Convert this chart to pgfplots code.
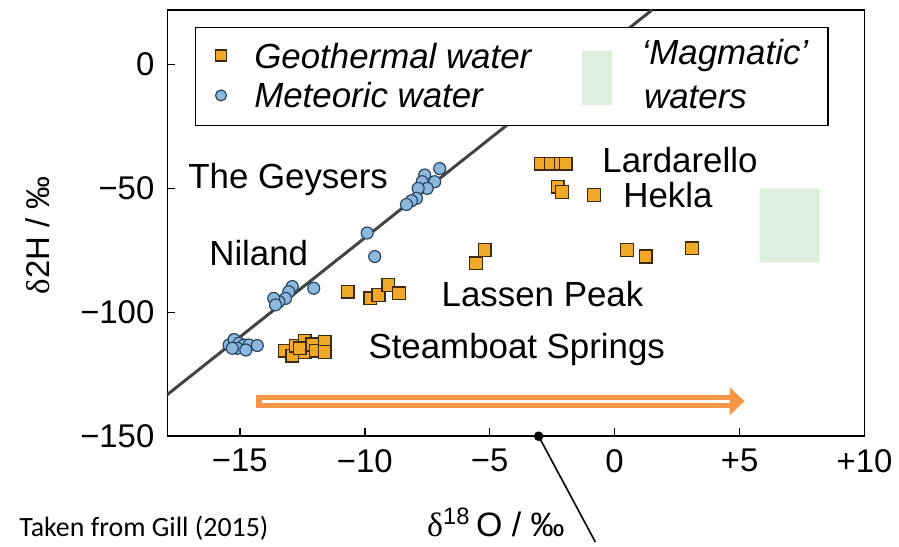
\documentclass[border=0pt]{standalone}
\usepackage{pgfplots}
\pgfplotsset{compat=1.18}
\usepackage{fontspec}
\setmainfont{Liberation Sans}
\newfontfamily\seriffont{Liberation Serif}
\newfontfamily\calibri{Carlito}

\definecolor{geo}{HTML}{F0A828}
\definecolor{geoedge}{HTML}{3C2A0A}
\definecolor{met}{HTML}{8DB8DE}
\definecolor{metedge}{HTML}{274560}
\definecolor{magma}{HTML}{DCEEDC}
\definecolor{arrowor}{HTML}{F79646}
\definecolor{gmwl}{HTML}{444444}

\newcommand{\lab}{\fontsize{17.5}{20}\selectfont}

\begin{document}
\begin{tikzpicture}
  \begin{axis}[
    scale only axis,
    width=350pt, height=214pt,
    xmin=-17.9, xmax=10,
    ymin=-150, ymax=22,
    xtick={-15,-10,-5,0,5,10},
    xticklabels={−15,−10,−5,0,+5,+10},
    ytick={0,-50,-100,-150},
    yticklabels={0,−50,−100,−150},
    tick pos=left,
    tick align=inside,
    major tick length=4pt,
    tick style={line width=0.8pt, black},
    axis line style={line width=0.8pt},
    tick label style={font=\fontsize{16.5}{18}\selectfont},
    xticklabel style={yshift=-3pt},
    yticklabel style={xshift=-3pt},
    clip=false,
  ]

    % magmatic waters field
    \addplot[draw=none, fill=magma] coordinates {
      (5.8,-80) (8.2,-80) (8.2,-50) (5.8,-50)
    } \closedcycle;

    % global meteoric water line
    \addplot[gmwl, line width=1.5pt] coordinates {(-17.9,-133.2) (1.5,22)};

    % meteoric water
    \addplot[only marks, mark=*, mark size=3pt,
      mark options={fill=met, draw=metedge, line width=0.6pt}]
    coordinates {
      (-7.0,-42) (-7.2,-47.3) (-7.6,-44.6) (-7.7,-47.3) (-7.5,-50)
      (-7.86,-50) (-7.93,-54) (-8.13,-55) (-8.33,-56.5)
      (-9.9,-68) (-9.6,-77.5)
      (-12.04,-90.3) (-12.9,-89.6) (-13.04,-91.7) (-13.17,-94.4)
      (-13.44,-95.7) (-13.64,-94.4) (-13.57,-97)
      (-15.43,-113.2) (-15.23,-111) (-15.03,-112.5) (-14.83,-113.2)
      (-14.63,-113.2) (-14.3,-113.4) (-15.1,-114.5) (-14.76,-115.2)
      (-15.3,-114.5)
    };

    % geothermal water
    \addplot[only marks, mark=square*, mark size=3.2pt,
      mark options={fill=geo, draw=geoedge, line width=0.7pt}]
    coordinates {
      (-13.2,-115.5) (-12.9,-117.5) (-12.75,-113.5) (-12.4,-111.5)
      (-12.4,-116) (-12.1,-113) (-11.95,-115.5) (-11.6,-112)
      (-11.6,-116) (-12.6,-114.5)
      (-10.68,-91.7) (-9.78,-94.4) (-9.45,-93) (-9.06,-89) (-8.63,-92.3)
      (-5.54,-80.2) (-5.2,-74.9)
      (-2.96,-40) (-2.56,-40) (-2.16,-40) (-1.96,-40)
      (-2.28,-49.3) (-2.1,-51.5) (-0.82,-52.6)
      (0.5,-74.9) (1.24,-77.5) (3.1,-74.2)
    };

    % site labels
    \node[anchor=west, font=\lab] at (axis cs:-17.34,-46.4) {The Geysers};
    \node[anchor=west, font=\lab] at (axis cs:-16.5,-76.2) {Niland};
    \node[anchor=west, font=\lab] at (axis cs:-7.2,-92.7) {Lassen Peak};
    \node[anchor=west, font=\lab] at (axis cs:-10.13,-114.9) {Steamboat Springs};
    \node[anchor=west, font=\lab] at (axis cs:-0.77,-38.7) {Lardarello};
    \node[anchor=west, font=\lab] at (axis cs:0.07,-52.8) {Hekla};

    % legend
    \draw[line width=0.8pt, fill=white] (axis cs:-16.78,14.9) rectangle (axis cs:8.55,-24.6);
    \node[draw=geoedge, fill=geo, line width=0.7pt, minimum size=5.5pt, inner sep=0pt] at (axis cs:-15.75,3.6) {};
    \node[draw=metedge, fill=met, circle, line width=0.6pt, minimum size=5.5pt, inner sep=0pt] at (axis cs:-15.75,-12.5) {};
    \node[anchor=west, font=\lab\itshape] at (axis cs:-14.7,3.6) {Geothermal water};
    \node[anchor=west, font=\lab\itshape] at (axis cs:-14.7,-12.5) {Meteoric water};
    \fill[magma] (axis cs:-1.29,5.6) rectangle (axis cs:-0.09,-16.5);
    \node[anchor=west, font=\lab\itshape] at (axis cs:0.8,3.6) {‘Magmatic’};
    \node[anchor=west, font=\lab\itshape] at (axis cs:0.9,-13.3) {waters};

    % orange arrow
    \draw[arrowor, line width=6.5pt] (axis cs:-14.35,-135.9) -- (axis cs:4.7,-135.9);
    \draw[white, line width=1.3pt] (axis cs:-14.1,-135.9) -- (axis cs:4.65,-135.9);
    \fill[arrowor] (axis cs:4.6,-130.2) -- (axis cs:5.2,-135.9) -- (axis cs:4.6,-141.6) -- cycle;

    % pointer to axis label
    \draw[black, line width=0.8pt] (axis cs:-3.04,-150) -- (axis cs:-0.77,-192.7);
    \fill[black] (axis cs:-3.04,-150) circle (2.4pt);

    % axis labels
    \node[font=\fontsize{17}{19}\selectfont] at (axis cs:-4.75,-184.8)
      {{\seriffont δ}\textsuperscript{18}\,O / ‰};
    \node[rotate=90, font=\fontsize{16.5}{18}\selectfont] at (axis cs:-23.1,-69)
      {{\seriffont δ}2H / ‰};

    \node[anchor=west, font=\calibri\fontsize{14}{16}\selectfont] at (axis cs:-24.1,-187)
      {Taken from Gill (2015)};
  \end{axis}
  \path ([shift={(-84pt,-53pt)}]current axis.south west)
    rectangle ([shift={(15pt,5pt)}]current axis.north east);
\end{tikzpicture}
\end{document}
